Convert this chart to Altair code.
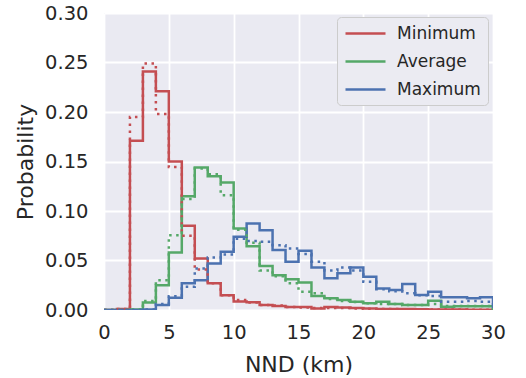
import altair as alt
import pandas as pd

# Bin left edges (km); each bin is 1 km wide, 0..30
bin_edges = list(range(0, 31))
series_names = ["Minimum", "Average", "Maximum"]
series_colors = ["#C44E52", "#55A868", "#4C72B0"]

# Probability per 1-km bin (solid = first set, dotted = second set)
min_solid = [0.0, 0.001, 0.171, 0.241, 0.221, 0.150, 0.085, 0.052, 0.027, 0.015,
             0.0085, 0.0078, 0.005, 0.004, 0.003, 0.003, 0.0015, 0.003, 0.0025, 0.002,
             0.0015, 0.001, 0.001, 0.001, 0.0008, 0.0005, 0.0005, 0.0005, 0.0003, 0.0003]
min_dot = [0.0, 0.001, 0.195, 0.249, 0.198, 0.1445, 0.075, 0.041, 0.027, 0.015,
           0.010, 0.0075, 0.005, 0.0045, 0.003, 0.0025, 0.002, 0.002, 0.002, 0.0015,
           0.0012, 0.001, 0.001, 0.0008, 0.0006, 0.0005, 0.0004, 0.0004, 0.0003, 0.0003]
avg_solid = [0.0, 0.0, 0.0005, 0.0075, 0.025, 0.058, 0.115, 0.144, 0.135, 0.1287,
             0.0823, 0.0645, 0.0444, 0.035, 0.031, 0.0279, 0.0141, 0.0118, 0.010, 0.0084,
             0.0067, 0.0084, 0.006, 0.005, 0.005, 0.0094, 0.0034, 0.0037, 0.0037, 0.0037]
avg_dot = [0.0, 0.0, 0.0005, 0.009, 0.030, 0.0756, 0.112, 0.143, 0.137, 0.116,
           0.081, 0.068, 0.040, 0.034, 0.027, 0.0185, 0.0168, 0.011, 0.009, 0.008,
           0.0067, 0.006, 0.006, 0.005, 0.005, 0.006, 0.004, 0.004, 0.004, 0.004]
max_solid = [0.0, 0.0, 0.0, 0.0005, 0.005, 0.0124, 0.027, 0.030, 0.047, 0.0588,
             0.0739, 0.0874, 0.0806, 0.0605, 0.0487, 0.0598, 0.043, 0.032, 0.037, 0.043,
             0.0336, 0.0218, 0.0202, 0.0262, 0.0151, 0.0185, 0.0128, 0.0128, 0.0118, 0.0128]
max_dot = [0.0, 0.0, 0.0, 0.0005, 0.006, 0.014, 0.0235, 0.042, 0.053, 0.056,
           0.072, 0.0696, 0.069, 0.0655, 0.062, 0.0565, 0.0487, 0.040, 0.043, 0.040,
           0.0286, 0.021, 0.019, 0.0168, 0.015, 0.0141, 0.0084, 0.0084, 0.009, 0.0084]

x_ticks = [0, 5, 10, 15, 20, 25, 30]
y_ticks = [0.0, 0.05, 0.10, 0.15, 0.20, 0.25, 0.30]

sets = [
    ("Minimum", "solid", min_solid),
    ("Average", "solid", avg_solid),
    ("Maximum", "solid", max_solid),
    ("Minimum", "dotted", min_dot),
    ("Average", "dotted", avg_dot),
    ("Maximum", "dotted", max_dot),
]

rows = []
for name, style, vals in sets:
    key = name + "-" + style
    pts = [(bin_edges[0], 0.0)]
    pts += [(bin_edges[i], v) for i, v in enumerate(vals)]
    pts += [(bin_edges[-1], vals[-1]), (bin_edges[-1], 0.0)]
    for k, (x, y) in enumerate(pts):
        rows.append({"nnd": x, "prob": y, "series": name, "style": style,
                     "key": key, "ord": k})
df = pd.DataFrame(rows)

chart = alt.Chart(df).mark_line(
    interpolate="step-after", strokeWidth=2.5, clip=True, strokeCap="butt"
).encode(
    x=alt.X("nnd:Q", scale=alt.Scale(domain=[0, 30], nice=False),
            axis=alt.Axis(values=x_ticks, title="NND (km)", format="d")),
    y=alt.Y("prob:Q", scale=alt.Scale(domain=[0, 0.30], nice=False),
            axis=alt.Axis(values=y_ticks, title="Probability", format=".2f")),
    color=alt.Color("series:N",
                    scale=alt.Scale(domain=series_names, range=series_colors),
                    legend=alt.Legend(title=None, orient="none", legendX=233,
                                      legendY=4)),
    strokeDash=alt.StrokeDash("style:N",
                              scale=alt.Scale(domain=["solid", "dotted"],
                                              range=[[1, 0], [2.5, 4.5]]),
                              legend=None),
    detail="key:N",
    order="ord:Q",
).properties(
    width=389, height=297,
    autosize=alt.AutoSizeParams(type="none"),
    padding={"left": 104, "top": 13, "right": 33, "bottom": 68},
).configure(
    font="DejaVu Sans",
    background="white",
).configure_view(
    fill="#EAEAF2", stroke=None,
).configure_axis(
    grid=True, gridColor="white", gridWidth=1.8, domain=False, ticks=False,
    labelFlush=False,
    labelFont="DejaVu Sans", labelFontSize=19.5, labelColor="#262626",
    titleFont="DejaVu Sans", titleFontSize=22, titleFontWeight="normal",
    titleColor="#262626",
).configure_axisX(
    labelPadding=13, titlePadding=13,
).configure_axisY(
    labelPadding=16, titlePadding=7,
).configure_legend(
    fillColor="#EBEBF2", strokeColor="#CCCCCC", cornerRadius=4, padding=7,
    labelFont="DejaVu Sans", labelFontSize=17, labelColor="#262626",
    symbolType="M-1,0H4", symbolSize=256, symbolStrokeWidth=2.5,
    labelOffset=34, rowPadding=10,
)

chart.save("out.html", embed_options={"renderer": "svg", "actions": False})
